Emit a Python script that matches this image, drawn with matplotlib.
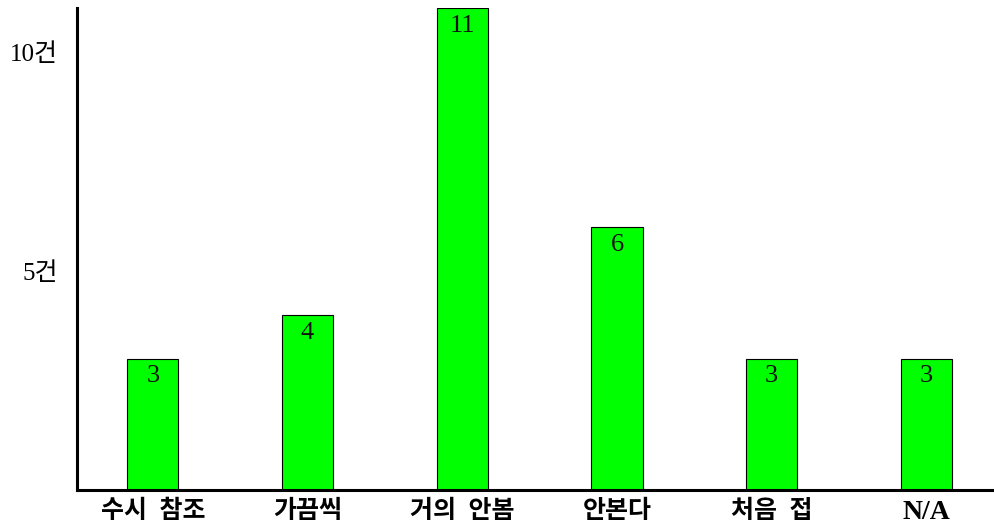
import matplotlib.pyplot as plt

# Fonts: serif digits, Korean fallback
plt.rcParams['font.family'] = ['Liberation Serif', 'Noto Sans CJK KR']

categories = ['수시  참조', '가끔씩', '거의  안봄', '안본다', '처음  접', 'N/A']
counts = [3, 4, 11, 6, 3, 3]
y_ticks = [5, 10]
y_tick_labels = ['5건', '10건']

fig = plt.figure(figsize=(9.95, 5.29), dpi=100)
ax = fig.add_axes([0.0774, 0.0737, 0.9206, 0.9113])

x = range(len(categories))
bars = ax.bar(x, counts, width=0.33, color='#00ff00', edgecolor='black', linewidth=0.8)

# value labels just inside the top of each bar
for rect, v in zip(bars, counts):
    ax.annotate(str(v), (rect.get_x() + rect.get_width() / 2, v),
                xytext=(0, -5), textcoords='offset points',
                ha='center', va='top', fontsize=19, color='#111111')

ax.set_xlim(-0.49, 5.43)
ax.set_ylim(0, 11)
ax.set_xticks(list(x))
ax.set_xticklabels(categories, fontsize=18, fontweight='bold')
ax.get_xticklabels()[-1].set_fontsize(20)
ax.set_yticks(y_ticks)
ax.set_yticklabels(y_tick_labels, fontsize=18)
ax.tick_params(axis='both', length=0)
ax.tick_params(axis='y', pad=14)
ax.tick_params(axis='x', pad=7)

for side in ['top', 'right']:
    ax.spines[side].set_visible(False)
for side in ['left', 'bottom']:
    ax.spines[side].set_linewidth(2.2)

fig.savefig('out.png', dpi=100)
